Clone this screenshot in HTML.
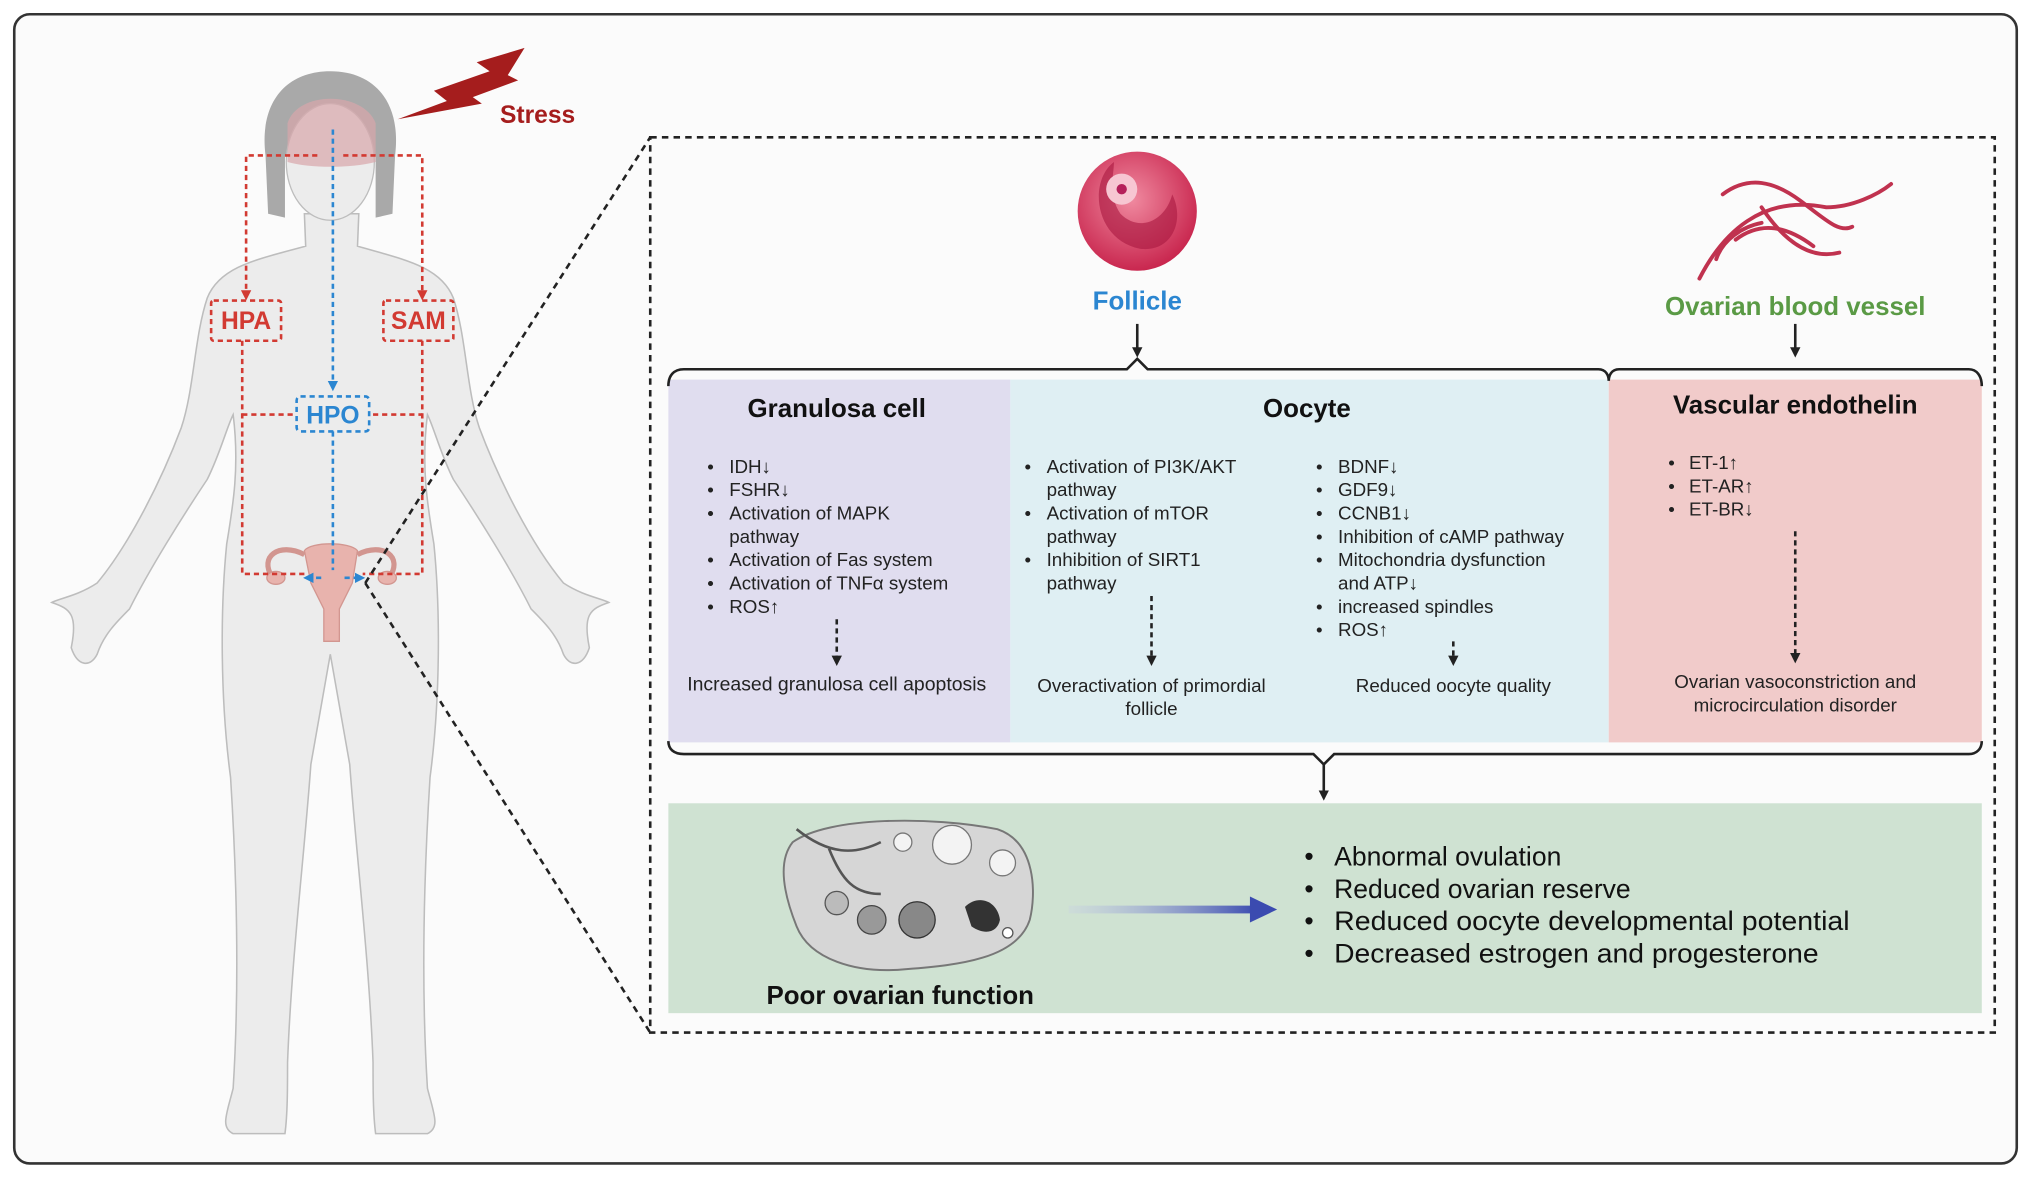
<!DOCTYPE html>
<html><head><meta charset="utf-8"><style>
html,body{margin:0;padding:0;background:#fff;}
svg{display:block;}
text{font-family:"Liberation Sans",sans-serif;}
</style></head><body>
<svg width="2031" height="1179" viewBox="0 0 1568 910" preserveAspectRatio="none" xmlns="http://www.w3.org/2000/svg">
<defs>
<marker id="ak" markerWidth="8" markerHeight="8" refX="4" refY="4" orient="auto" markerUnits="userSpaceOnUse"><path d="M0,0 L8,4 L0,8Z" fill="#222"/></marker>
<marker id="ar" markerWidth="8" markerHeight="8" refX="4" refY="4" orient="auto" markerUnits="userSpaceOnUse"><path d="M0,0 L8,4 L0,8Z" fill="#d23a32"/></marker>
<marker id="ab" markerWidth="8" markerHeight="8" refX="4" refY="4" orient="auto" markerUnits="userSpaceOnUse"><path d="M0,0 L8,4 L0,8Z" fill="#2b86d1"/></marker>
<linearGradient id="bg1" gradientUnits="userSpaceOnUse" x1="825" y1="0" x2="970" y2="0"><stop offset="0" stop-color="#c8d0e6" stop-opacity="0.3"/><stop offset="1" stop-color="#3b4bb0"/></linearGradient>
<radialGradient id="fol" cx="0.45" cy="0.4" r="0.6"><stop offset="0" stop-color="#f08aa0"/><stop offset="1" stop-color="#c9274f"/></radialGradient>
</defs>
<rect x="0" y="0" width="1568" height="910" fill="#fff"/>
<rect x="11" y="11" width="1546" height="887" rx="12" fill="#fbfbfb" stroke="#333" stroke-width="2"/>

<!-- body silhouette -->
<g fill="#ececec" stroke="#bdbdbd" stroke-width="1.2">
<path d="M235,165 L236,190 C200,200 170,205 160,230 C150,260 150,300 140,330 C125,370 100,420 75,450 C60,460 45,462 40,465 C55,470 60,475 55,500 C60,515 70,515 75,505 C80,490 90,480 100,470 C115,440 140,400 160,370 C170,350 175,330 180,320 C185,360 180,390 175,420 C170,470 170,540 178,600 C183,680 185,760 180,840 C175,860 170,870 180,875 L220,875 C222,860 222,840 222,820 C225,740 235,660 240,590 L255,505 L270,590 C275,660 285,740 288,820 C288,840 288,860 290,875 L330,875 C340,870 335,860 330,840 C325,760 327,680 332,600 C340,540 340,470 335,420 C330,390 325,360 330,320 C335,330 340,350 350,370 C370,400 395,440 410,470 C420,480 430,490 435,505 C440,515 450,515 455,500 C450,475 455,470 470,465 C465,462 450,460 435,450 C410,420 385,370 370,330 C360,300 360,260 350,230 C340,205 310,200 276,190 L277,165Z"/>
</g>
<path d="M205,120 C200,80 220,55 255,55 C290,55 310,80 305,120 L303,165 L290,168 L290,120 L220,120 L220,168 L207,165Z" fill="#a9a9a9"/>
<ellipse cx="255" cy="125" rx="34" ry="45" fill="#ececec" stroke="#bdbdbd"/>
<path d="M222,95 C230,70 280,70 290,95 L290,125 C270,130 240,130 222,125Z" fill="#d9a7ab" opacity="0.7"/>
<!-- uterus -->
<g fill="#e8b3ad" stroke="#d29690">
<path d="M235,425 C240,418 270,418 276,425 L272,450 L262,470 L262,495 L250,495 L250,470 L240,450Z"/>
<path d="M235,428 C215,418 200,430 210,445" fill="none" stroke-width="4"/>
<path d="M276,428 C296,418 311,430 301,445" fill="none" stroke-width="4"/>
<ellipse cx="213" cy="446" rx="7" ry="5"/><ellipse cx="299" cy="446" rx="7" ry="5"/>
</g>
<!-- lightning -->
<path d="M307,92 L345,78 L335,70 L378,55 L368,48 L405,37 L392,58 L400,62 L365,75 L372,80Z" fill="#a51d1d"/>
<text x="386" y="95" font-size="19" font-weight="bold" fill="#a51d1d">Stress</text>
<!-- HPA/SAM dashed -->
<g stroke="#d23a32" stroke-width="2" stroke-dasharray="4,3" fill="none">
<path d="M245,120 L190,120 L190,228" marker-end="url(#ar)"/>
<path d="M265,120 L326,120 L326,228" marker-end="url(#ar)"/>
<rect x="163" y="232" width="54" height="31" rx="2"/>
<rect x="296" y="232" width="54" height="31" rx="2"/>
<path d="M187,263 L187,443 L236,443"/>
<path d="M326,263 L326,443 L280,443"/>
<path d="M187,320 L228,320 M288,320 L326,320"/>
</g>
<text x="190" y="254" font-size="19" font-weight="bold" fill="#d23a32" text-anchor="middle">HPA</text>
<text x="323" y="254" font-size="19" font-weight="bold" fill="#d23a32" text-anchor="middle">SAM</text>
<g stroke="#2b86d1" stroke-width="2" stroke-dasharray="4,3" fill="none">
<path d="M257,100 L257,298" marker-end="url(#ab)"/>
<rect x="229" y="306" width="56" height="27" rx="3"/>
<path d="M257,333 L257,440"/>
<path d="M248,446 L238,446" marker-end="url(#ab)"/>
<path d="M266,446 L278,446" marker-end="url(#ab)"/>
</g>
<text x="257" y="327" font-size="19" font-weight="bold" fill="#2b86d1" text-anchor="middle">HPO</text>

<!-- zoom lines -->
<g stroke="#222" stroke-width="2" stroke-dasharray="5,4" fill="none">
<path d="M282,450 L502,106"/>
<path d="M282,450 L502,797"/>
<rect x="502" y="106" width="1038" height="691"/>
</g>

<!-- follicle -->
<circle cx="878" cy="163" r="46" fill="url(#fol)"/>
<path d="M860,125 C840,140 845,185 880,192 C905,195 915,170 905,150 C900,170 880,180 865,165 C855,150 860,135 860,125Z" fill="#a8173f" opacity="0.6"/>
<circle cx="866" cy="146" r="12" fill="#f7c6d2"/><circle cx="866" cy="146" r="4" fill="#b5205a"/>
<text x="878" y="239" font-size="20" font-weight="bold" fill="#2b86d1" text-anchor="middle">Follicle</text>
<!-- vessel -->
<g stroke="#c0324f" stroke-width="3" fill="none" stroke-linecap="round">
<path d="M1312,215 C1330,180 1360,150 1410,160 C1430,160 1450,150 1460,142"/>
<path d="M1340,185 C1360,170 1380,175 1400,190"/>
<path d="M1330,150 C1350,135 1370,140 1390,155 C1410,170 1420,180 1430,175"/>
<path d="M1360,160 C1380,190 1400,200 1420,195"/>
<path d="M1325,200 C1330,185 1345,175 1360,172"/>
</g>
<text x="1386" y="243" font-size="20" font-weight="bold" fill="#5a9a45" text-anchor="middle">Ovarian blood vessel</text>
<g stroke="#222" stroke-width="2" fill="none">
<path d="M878,250 L878,272" marker-end="url(#ak)"/>
<path d="M1386,250 L1386,272" marker-end="url(#ak)"/>
</g>

<!-- panels -->
<rect x="516" y="293" width="264" height="280" fill="#e0ddef"/>
<rect x="780" y="293" width="462" height="280" fill="#dfeff3"/>
<rect x="1242" y="293" width="288" height="280" fill="#f1cbca"/>
<path d="M516,298 C516,290 520,285 528,285 L870,285 L878,277 L886,285 L1234,285 C1240,285 1242,290 1242,294 C1242,290 1244,285 1250,285 L1520,285 C1526,285 1530,290 1530,298" fill="none" stroke="#222" stroke-width="2"/>
<path d="M516,572 C516,578 520,582 528,582 L1014,582 L1022,590 L1030,582 L1520,582 C1526,582 1530,578 1530,572" fill="none" stroke="#222" stroke-width="2"/>
<path d="M1022,590 L1022,614" stroke="#222" stroke-width="2" marker-end="url(#ak)"/>

<g font-size="20" font-weight="bold" fill="#111" text-anchor="middle">
<text x="646" y="322">Granulosa cell</text>
<text x="1009" y="322">Oocyte</text>
<text x="1386" y="319">Vascular endothelin</text>
</g>
<g font-size="14.5" fill="#222">
<g>
<text x="546" y="365">•</text><text x="563" y="365">IDH↓</text>
<text x="546" y="383">•</text><text x="563" y="383">FSHR↓</text>
<text x="546" y="401">•</text><text x="563" y="401">Activation of MAPK</text>
<text x="563" y="419">pathway</text>
<text x="546" y="437">•</text><text x="563" y="437">Activation of Fas system</text>
<text x="546" y="455">•</text><text x="563" y="455">Activation of TNFα system</text>
<text x="546" y="473">•</text><text x="563" y="473">ROS↑</text>
<text x="646" y="533" text-anchor="middle" font-size="15">Increased granulosa cell apoptosis</text>
</g>
<g>
<text x="791" y="365">•</text><text x="808" y="365">Activation of PI3K/AKT</text>
<text x="808" y="383">pathway</text>
<text x="791" y="401">•</text><text x="808" y="401">Activation of mTOR</text>
<text x="808" y="419">pathway</text>
<text x="791" y="437">•</text><text x="808" y="437">Inhibition of SIRT1</text>
<text x="808" y="455">pathway</text>
<text x="889" y="534" text-anchor="middle">Overactivation of primordial</text>
<text x="889" y="552" text-anchor="middle">follicle</text>
</g>
<g>
<text x="1016" y="365">•</text><text x="1033" y="365">BDNF↓</text>
<text x="1016" y="383">•</text><text x="1033" y="383">GDF9↓</text>
<text x="1016" y="401">•</text><text x="1033" y="401">CCNB1↓</text>
<text x="1016" y="419">•</text><text x="1033" y="419">Inhibition of cAMP pathway</text>
<text x="1016" y="437">•</text><text x="1033" y="437">Mitochondria dysfunction</text>
<text x="1033" y="455">and ATP↓</text>
<text x="1016" y="473">•</text><text x="1033" y="473">increased spindles</text>
<text x="1016" y="491">•</text><text x="1033" y="491">ROS↑</text>
<text x="1122" y="534" text-anchor="middle">Reduced oocyte quality</text>
</g>
<g>
<text x="1288" y="362">•</text><text x="1304" y="362">ET-1↑</text>
<text x="1288" y="380">•</text><text x="1304" y="380">ET-AR↑</text>
<text x="1288" y="398">•</text><text x="1304" y="398">ET-BR↓</text>
<text x="1386" y="531" text-anchor="middle">Ovarian vasoconstriction and</text>
<text x="1386" y="549" text-anchor="middle">microcirculation disorder</text>
</g>
</g>
<g stroke="#222" stroke-width="2" stroke-dasharray="4,3">
<path d="M646,478 L646,510" marker-end="url(#ak)"/>
<path d="M889,460 L889,510" marker-end="url(#ak)"/>
<path d="M1122,495 L1122,510" marker-end="url(#ak)"/>
<path d="M1386,410 L1386,508" marker-end="url(#ak)"/>
</g>

<!-- green panel -->
<rect x="516" y="620" width="1014" height="162" fill="#cfe2d2"/>
<path d="M612,650 C640,630 720,630 770,640 C800,650 800,690 795,710 C785,740 740,745 700,748 C660,752 625,740 615,715 C605,690 600,665 612,650Z" fill="#d6d6d6" stroke="#777" stroke-width="1.5"/>
<path d="M615,640 C640,660 660,660 680,650 M640,655 C650,680 660,690 680,690" stroke="#555" stroke-width="2" fill="none"/>
<circle cx="735" cy="652" r="15" fill="#f3f3f3" stroke="#777"/>
<circle cx="774" cy="666" r="10" fill="#f3f3f3" stroke="#777"/>
<circle cx="697" cy="650" r="7" fill="#f3f3f3" stroke="#777"/>
<circle cx="646" cy="697" r="9" fill="#bbb" stroke="#555"/>
<circle cx="673" cy="710" r="11" fill="#999" stroke="#444"/>
<circle cx="708" cy="710" r="14" fill="#888" stroke="#333"/>
<path d="M745,700 C755,690 770,695 772,710 C770,720 760,722 750,715Z" fill="#333"/>
<circle cx="778" cy="720" r="4" fill="#fff" stroke="#555"/>
<text x="695" y="775" font-size="20" font-weight="bold" fill="#111" text-anchor="middle">Poor ovarian function</text>
<rect x="825" y="699" width="143" height="6" fill="url(#bg1)"/>
<path d="M965,692 L986,702 L965,712Z" fill="#3b4bb0"/>
<g font-size="20.5" fill="#111">
<text x="1007" y="668">•</text><text x="1030" y="668">Abnormal ovulation</text>
<text x="1007" y="693">•</text><text x="1030" y="693">Reduced ovarian reserve</text>
<text x="1007" y="718">•</text><text x="1030" y="718" textLength="398" lengthAdjust="spacingAndGlyphs">Reduced oocyte developmental potential</text>
<text x="1007" y="743">•</text><text x="1030" y="743" textLength="374" lengthAdjust="spacingAndGlyphs">Decreased estrogen and progesterone</text>
</g>
</svg>
</body></html>
